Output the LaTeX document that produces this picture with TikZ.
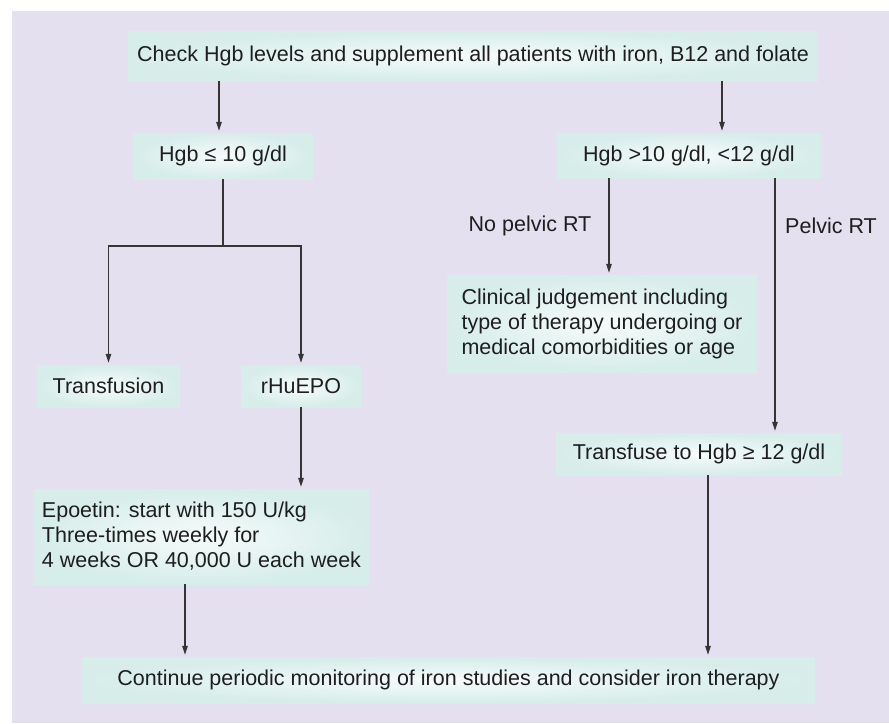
\documentclass[tikz,border=0pt]{standalone}
\usepackage{fontspec}
\setmainfont{Liberation Sans}
\usetikzlibrary{arrows.meta}

\definecolor{panel}{RGB}{228,224,240}
\definecolor{boxout}{RGB}{214,237,233}
\definecolor{boxin}{RGB}{246,251,251}
\definecolor{ink}{RGB}{30,30,30}

\tikzset{
  box/.style={shade, inner color=boxin, outer color=boxout, inner sep=0pt,
    font=\fontsize{21.5}{25}\selectfont, text=ink},
  lbl/.style={font=\fontsize{21.5}{25}\selectfont, text=ink},
  link/.style={draw=ink!90, line width=1.3pt}
}

\begin{document}
\begin{tikzpicture}[x=1pt,y=-1pt,>={Triangle[length=9pt,width=5.5pt]}]
    \useasboundingbox (0,0) rectangle (889,723);
    \fill[panel] (12,11) rectangle (889,723);

    % boxes
    \node[box, minimum width=690pt, minimum height=50pt] (top) at (473,56)
        {Check Hgb levels and supplement all patients with iron, B12 and folate};
    \node[box, minimum width=180pt, minimum height=46pt] (low) at (223,156) {Hgb ≤ 10 g/dl};
    \node[box, minimum width=264pt, minimum height=45pt] (mid) at (689,155.5) {Hgb >10 g/dl, <12 g/dl};
    \node[box, minimum width=143pt, minimum height=42pt] (tfus) at (108.5,386) {Transfusion};
    \node[box, minimum width=120pt, minimum height=42pt] (rhu) at (301,386) {rHuEPO};
    \node[box, minimum width=335pt, minimum height=95pt, align=left] (dose) at (201.5,536.5)
        {Epoetin: start with 150 U/kg\\Three-times weekly for\\4 weeks OR 40,000 U each week};
    \node[box, minimum width=310pt, minimum height=97pt, align=left] (clin) at (602,323.5)
        {Clinical judgement including\\type of therapy undergoing or\\medical comorbidities or age};
    \node[box, minimum width=286pt, minimum height=42pt] (tgt) at (699,454) {Transfuse to Hgb ≥ 12 g/dl};
    \node[box, minimum width=733pt, minimum height=46pt] (cont) at (448.5,680)
        {Continue periodic monitoring of iron studies and consider iron therapy};

    % labels
    \node[lbl] (nopel) at (530,226) {No pelvic RT};
    \node[lbl] (pel) at (831,226) {Pelvic RT};

    % columns and branch point
    \coordinate (lx) at (219,0);
    \coordinate (rx) at (722,0);
    \coordinate (nx) at (609,0);
    \coordinate (px) at (775,0);
    \coordinate (cx) at (708,0);
    \coordinate (dx) at (185,0);
    \coordinate (split) at (223,246);

    % connectors
    \draw[link, ->, shorten >=2pt] (top.south -| lx) -- (low.north -| lx);
    \draw[link, ->, shorten >=2pt] (top.south -| rx) -- (mid.north -| rx);
    \draw[link] (low.south) -- (split);
    \draw[link, ->, shorten >=2pt] (split) -| (tfus.north);
    \draw[link, ->, shorten >=2pt] (split) -| (rhu.north);
    \draw[link, ->, shorten >=2pt] (rhu.south) -- (dose.north -| rhu.south);
    \draw[link, ->, shorten >=2pt] (dose.south -| dx) -- (cont.north -| dx);
    \draw[link, ->, shorten >=2pt] (mid.south -| nx) -- (clin.north -| nx);
    \draw[link, ->, shorten >=2pt] (mid.south -| px) -- (tgt.north -| px);
    \draw[link, ->, shorten >=2pt] (tgt.south -| cx) -- (cont.north -| cx);
\end{tikzpicture}
\end{document}
